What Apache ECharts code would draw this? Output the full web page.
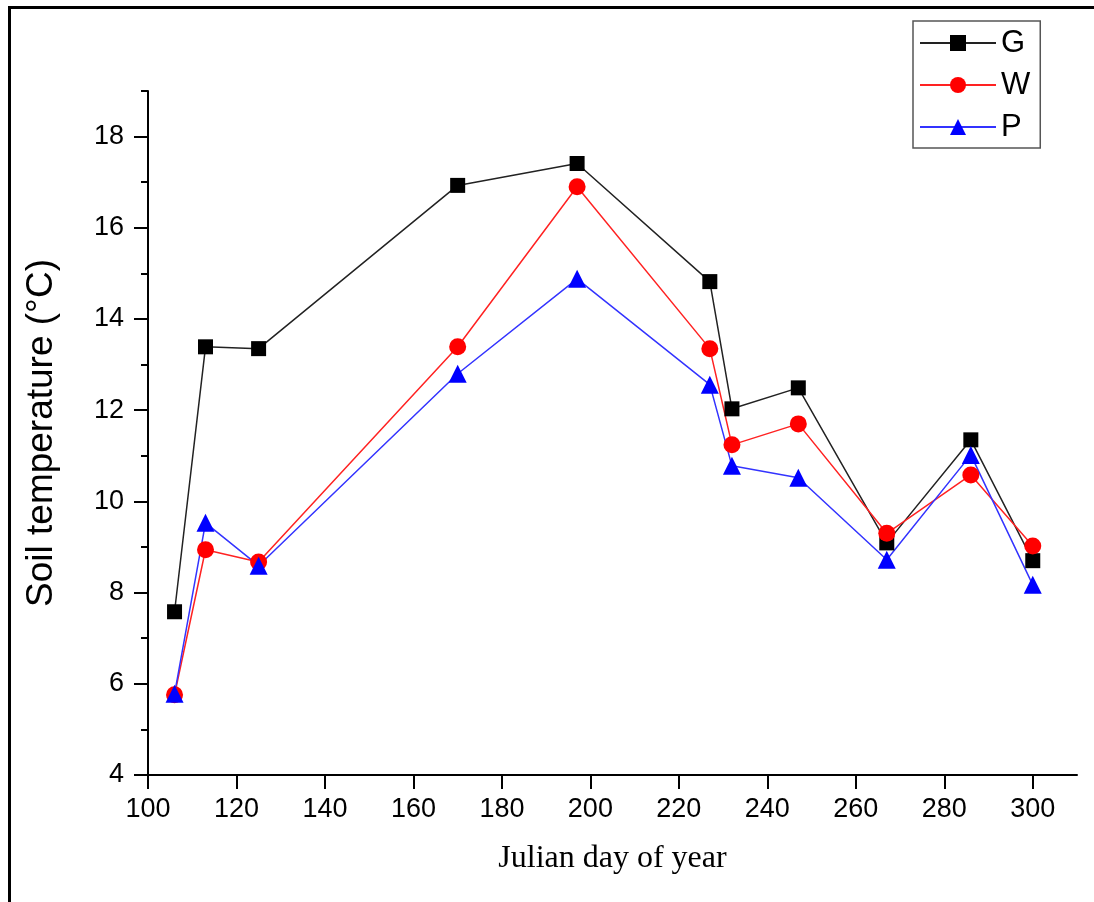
<!DOCTYPE html>
<html>
<head>
<meta charset="utf-8">
<script src="https://cdn.jsdelivr.net/npm/echarts@6/dist/echarts.min.js"></script>
<style>
  html, body { margin: 0; padding: 0; background: #fff; }
  #box { width: 1094px; height: 902px; }
</style>
</head>
<body>
<div id="box"></div>
<script>
// julian days and soil temperature per treatment
var days = [106, 113, 125, 170, 197, 227, 232, 247, 267, 286, 300];
var gTemp = [7.58, 13.39, 13.35, 16.93, 17.41, 14.82, 12.03, 12.49, 9.09, 11.35, 8.70];
var wTemp = [5.76, 8.94, 8.67, 13.39, 16.90, 13.35, 11.24, 11.70, 9.30, 10.58, 9.02];
var pTemp = [5.78, 9.53, 8.59, 12.80, 14.88, 12.56, 10.78, 10.52, 8.72, 11.02, 8.17];
var xTicks = [100, 120, 140, 160, 180, 200, 220, 240, 260, 280, 300];
var yTicks = [4, 6, 8, 10, 12, 14, 16, 18];
var yMinor = [5, 7, 9, 11, 13, 15, 17, 19];

function pairs(ys) {
  return days.map(function (d, i) { return [d, ys[i]]; });
}

var sans = 'Liberation Sans';
var dom = document.getElementById('box');
var myChart = echarts.init(dom);
var option = {
  backgroundColor: '#fff',
  animation: false,
  grid: { left: 148, right: 17, top: 91, bottom: 127 },
  graphic: [{
    type: 'rect',
    shape: { x: 9.5, y: 7.5, width: 1200, height: 1000 },
    style: { fill: 'none', stroke: '#000', lineWidth: 3 }
  }],
  legend: {
    orient: 'vertical',
    left: 913,
    top: 21,
    padding: [6, 10, 5, 6],
    itemGap: 10,
    itemWidth: 76,
    itemHeight: 20,
    borderColor: '#555',
    borderWidth: 1.5,
    textStyle: { fontFamily: sans, fontSize: 31, color: '#000', lineHeight: 32 },
    data: ['G', 'W', 'P']
  },
  xAxis: {
    type: 'value',
    min: 100,
    max: 310,
    interval: 20,
    name: 'Julian day of year',
    nameLocation: 'middle',
    nameGap: 68,
    nameTextStyle: { fontFamily: 'Liberation Serif', fontSize: 32, color: '#000' },
    axisLine: { lineStyle: { color: '#000', width: 2 } },
    axisTick: { length: 14, customValues: xTicks, lineStyle: { color: '#000', width: 2 } },
    axisLabel: {
      fontFamily: sans, fontSize: 27, color: '#000', margin: 21,
      customValues: xTicks
    },
    splitLine: { show: false }
  },
  yAxis: [
    {
      type: 'value',
      min: 4,
      max: 19,
      interval: 2,
      name: 'Soil temperature (°C)',
      nameLocation: 'middle',
      nameRotate: 90,
      nameGap: 88,
      nameTextStyle: { fontFamily: sans, fontSize: 37, color: '#000' },
      axisLine: { show: true, lineStyle: { color: '#000', width: 2 } },
      axisTick: { show: true, length: 14, customValues: yTicks, lineStyle: { color: '#000', width: 2 } },
      axisLabel: { fontFamily: sans, fontSize: 27, color: '#000', margin: 24, customValues: yTicks },
      splitLine: { show: false }
    },
    {
      // minor ticks only
      type: 'value',
      position: 'left',
      min: 4,
      max: 19,
      interval: 1,
      axisLine: { show: false },
      axisTick: { show: true, length: 7, customValues: yMinor, lineStyle: { color: '#000', width: 2 } },
      axisLabel: { show: false },
      splitLine: { show: false }
    }
  ],
  series: [
    {
      name: 'G',
      type: 'line',
      data: pairs(gTemp),
      symbol: 'rect',
      symbolSize: 15,
      lineStyle: { color: '#222', width: 1.5 },
      itemStyle: { color: '#000' }
    },
    {
      name: 'W',
      type: 'line',
      data: pairs(wTemp),
      symbol: 'circle',
      symbolSize: 17,
      lineStyle: { color: '#f22', width: 1.5 },
      itemStyle: { color: '#ff0000' }
    },
    {
      name: 'P',
      type: 'line',
      data: pairs(pTemp),
      symbol: 'triangle',
      symbolSize: 18,
      lineStyle: { color: '#33f', width: 1.5 },
      itemStyle: { color: '#0000ff' }
    }
  ]
};

if (option && typeof option === 'object') {
  myChart.setOption(option);
}
</script>
</body>
</html>
